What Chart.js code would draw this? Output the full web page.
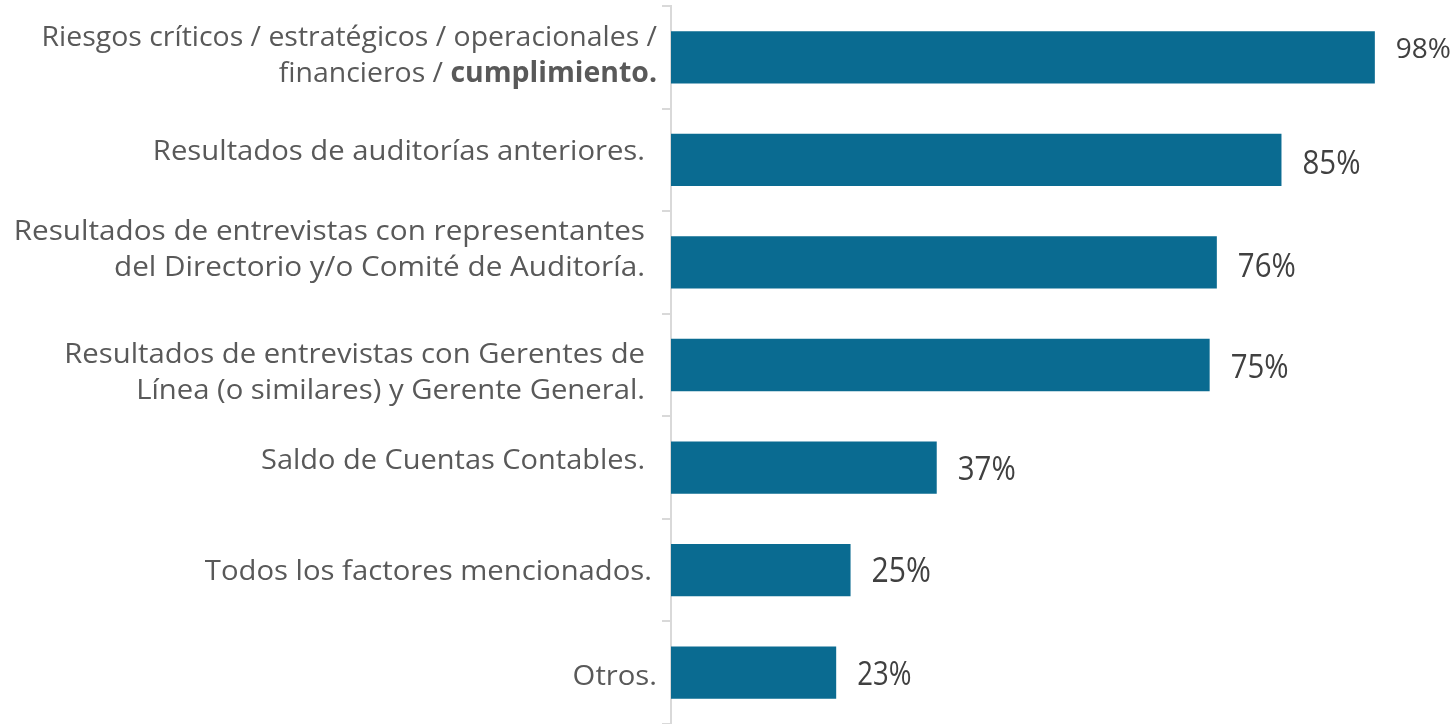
<!DOCTYPE html>
<html>
<head>
<meta charset="utf-8">
<script src="https://cdn.jsdelivr.net/npm/chart.js@4.4.1/dist/chart.umd.min.js"></script>
<style>
  html, body { margin: 0; padding: 0; background: #ffffff; }
  #wrap { width: 1456px; height: 724px; position: relative; }
</style>
</head>
<body>
<div id="wrap"><canvas id="c" width="1456" height="724"></canvas></div>
<script>
// ---- data ----
const categories = [
  ["Riesgos críticos / estratégicos / operacionales /", "financieros / **cumplimiento.**"],
  ["Resultados de auditorías anteriores."],
  ["Resultados de entrevistas con representantes", "del Directorio y/o Comité de Auditoría."],
  ["Resultados de entrevistas con Gerentes de", "Línea (o similares) y Gerente General."],
  ["Saldo de Cuentas Contables."],
  ["Todos los factores mencionados."],
  ["Otros."]
];
const values = [98, 85, 76, 75, 37, 25, 23];
const valueLabels = ["98%", "85%", "76%", "75%", "37%", "25%", "23%"];

// ---- styles ----
const labelRight = [657, 645, 645, 645, 645, 652, 657];
const labelDy = [-1, -8, -12, 8, -7, 2, 4];
const labelScaleX = [1.015, 1.045, 1.06, 1.045, 1.035, 1.045, 1.045];
const valueFontSize = [28, 32, 32, 32, 32, 35, 32];
const valueScaleX = [1, 0.92, 0.92, 0.92, 0.92, 0.86, 0.86];
const valueDy = [-7, 5, 5, 4, 3, 2, 3];

const AXIS_X = 671;

const yLabelPlugin = {
  id: 'yLabels',
  afterDraw(chart) {
    const ctx = chart.ctx;
    const ys = chart.scales.y;
    const lineH = 36;
    ctx.save();
    ctx.textBaseline = 'middle';
    ctx.fillStyle = '#595959';
    categories.forEach((lines, i) => {
      const cy = ys.getPixelForValue(i) + labelDy[i];
      const y0 = cy - (lines.length - 1) * lineH / 2;
      lines.forEach((line, li) => {
        const parts = line.split('**');
        const segs = parts.map((t, k) => ({ t, bold: k % 2 === 1 })).filter(s => s.t.length);
        let total = 0;
        segs.forEach(s => {
          ctx.font = (s.bold ? 'bold ' : '') + '28px "Open Sans"';
          s.w = ctx.measureText(s.t).width;
          total += s.w;
        });
        ctx.save();
        ctx.translate(labelRight[i], y0 + li * lineH);
        ctx.scale(labelScaleX[i], 1);
        let x = -total;
        ctx.textAlign = 'left';
        segs.forEach(s => {
          ctx.font = (s.bold ? 'bold ' : '') + '28px "Open Sans"';
          ctx.fillText(s.t, x, 0);
          x += s.w;
        });
        ctx.restore();
      });
    });
    ctx.restore();
  }
};

const valueLabelPlugin = {
  id: 'valueLabels',
  afterDatasetsDraw(chart) {
    const ctx = chart.ctx;
    const meta = chart.getDatasetMeta(0);
    ctx.save();
    ctx.fillStyle = '#404040';
    ctx.textBaseline = 'middle';
    ctx.textAlign = 'left';
    meta.data.forEach((bar, i) => {
      const x = bar.x + 21;
      const y = bar.y + valueDy[i];
      ctx.save();
      ctx.translate(x, y);
      ctx.scale(valueScaleX[i], 1);
      ctx.font = valueFontSize[i] + 'px "Open Sans"';
      ctx.fillText(valueLabels[i], 0, 0);
      ctx.restore();
    });
    ctx.restore();
  }
};

new Chart(document.getElementById('c'), {
  type: 'bar',
  data: {
    labels: categories.map(l => l.join(' ').replace(/\*\*/g, '')),
    datasets: [{
      data: values,
      backgroundColor: '#0a6b91',
      borderWidth: 0,
      categoryPercentage: 0.51,
      barPercentage: 1.0
    }]
  },
  options: {
    indexAxis: 'y',
    responsive: false,
    animation: false,
    events: [],
    layout: { padding: { top: 6, bottom: 0, left: 0, right: 0 } },
    plugins: { legend: { display: false }, tooltip: { enabled: false } },
    scales: {
      x: {
        display: false,
        min: 0,
        max: 109.3
      },
      y: {
        display: true,
        offset: true,
        ticks: { display: false },
        grid: {
          display: true,
          offset: true,
          drawOnChartArea: false,
          drawTicks: true,
          tickLength: 9,
          color: '#d9d9d9',
          lineWidth: 2
        },
        border: { display: true, color: '#d9d9d9', width: 2 },
        afterFit(scale) { scale.width = AXIS_X; }
      }
    }
  },
  plugins: [yLabelPlugin, valueLabelPlugin]
});
</script>
</body>
</html>
